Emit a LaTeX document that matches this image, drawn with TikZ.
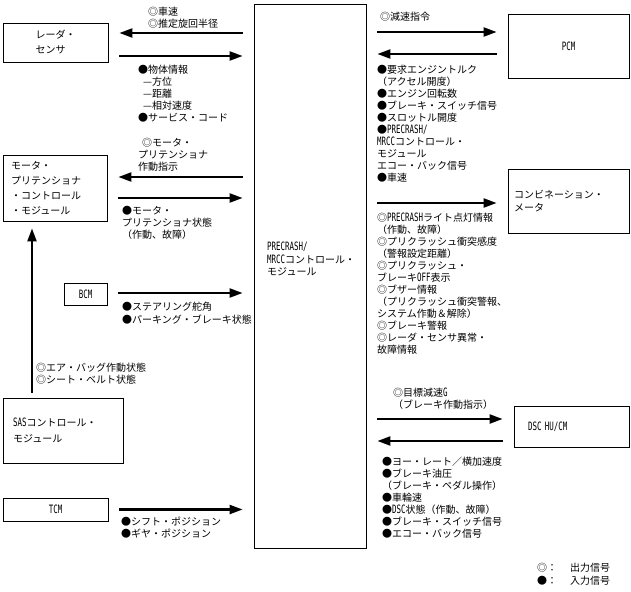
\documentclass[tikz,border=0pt]{standalone}
\usepackage{fontspec}
\setmainfont{Noto Sans CJK JP}
\newfontfamily\hwfont{DejaVu Sans Mono}[Scale=1.15,FakeStretch=0.65]
\newcommand{\hw}[1]{{\hwfont #1}}
\usetikzlibrary{arrows.meta}
\tikzset{
  unit/.style={draw, line width=0.8pt, inner sep=0pt, align=left, font=\fontsize{10}{15}\selectfont},
  sig/.style={line width=2.2pt, -{Triangle[length=13pt,width=9pt]}, shorten <=11pt, shorten >=11pt},
  lbl/.style={anchor=north west, inner sep=0pt, align=left, font=\fontsize{10}{12}\selectfont},
}
\begin{document}
\begin{tikzpicture}[x=1pt,y=-1pt]
  \useasboundingbox (0,0) rectangle (631,591);

  % control units
  \node[unit, minimum width=112pt, minimum height=544pt] (ctrl) at (310,276) {};
  \node[lbl, font=\fontsize{10}{12.5}\selectfont] (ctrltext) at (267,242) {\hw{PRECRASH/}\\\hw{MRCC}コントロール・\\モジュール};

  \node[unit, minimum width=105pt, minimum height=39pt] (radar) at (55.5,42.5) {レーダ・\\センサ};
  \node[unit, minimum width=104pt, minimum height=66pt, text width=88pt] (motor) at (55,188) {モータ・\\プリテンショナ\\・コントロール\\・モジュール};
  \node[unit, minimum width=43pt, minimum height=22pt] (bcm) at (85.5,294) {\hw{BCM}};
  \node[unit, minimum width=120pt, minimum height=65pt, text width=100pt, font=\fontsize{10}{16}\selectfont] (sas) at (63,430.5) {\hw{SAS}コントロール・\\モジュール};
  \node[unit, minimum width=105pt, minimum height=23pt] (tcm) at (55.5,509.5) {\hw{TCM}};
  \node[unit, minimum width=121pt, minimum height=64pt] (pcm) at (568.5,46) {\hw{PCM}};
  \node[unit, minimum width=121pt, minimum height=64pt, text width=109pt, font=\fontsize{10}{13}\selectfont] (comb) at (568.5,201) {コンビネーション・\\メータ};
  \node[unit, minimum width=115pt, minimum height=41pt, text width=87pt] (dsc) at (571.5,426.5) {\hw{DSC HU/CM}};

  % signals, left side
  \draw[sig] (ctrl.west |- 0,33) -- (radar.east |- 0,33);
  \draw[sig] (radar.east |- 0,56) -- (ctrl.west |- 0,56);
  \draw[sig] (ctrl.west |- 0,177) -- (motor.east |- 0,177);
  \draw[sig] (motor.east |- 0,198) -- (ctrl.west |- 0,198);
  \draw[sig] (bcm.east |- 0,293) -- (ctrl.west |- 0,293);
  \draw[sig] (tcm.east) -- (ctrl.west |- tcm.east);
  \draw[sig, shorten <=5pt, shorten >=7pt] (sas.north -| 32,0) -- (motor.south -| 32,0);

  % signals, right side
  \draw[sig] (ctrl.east |- 0,32) -- (pcm.west |- 0,32);
  \draw[sig] (pcm.west |- 0,54) -- (ctrl.east |- 0,54);
  \draw[sig] (ctrl.east |- 0,203) -- (comb.west |- 0,203);
  \draw[sig] (ctrl.east |- 0,419) -- (dsc.west |- 0,419);
  \draw[sig] (dsc.west |- 0,441) -- (ctrl.east |- 0,441);

  % labels
  \node[lbl] (radarout) at (148,7) {◎車速\\◎推定旋回半径};
  \node[lbl] (radarin) at (138,65) {●物体情報\\\hspace{5pt}—方位\\\hspace{5pt}—距離\\\hspace{5pt}—相対速度\\●サービス・コード};
  \node[lbl] (motorout) at (138,138) {\hspace{4pt}◎モータ・\\プリテンショナ\\作動指示};
  \node[lbl] (motorin) at (122,206) {●モータ・\\プリテンショナ状態\\（作動、故障）};
  \node[lbl, font=\fontsize{10}{13}\selectfont] (bcmin) at (122,302) {●ステアリング舵角\\●パーキング・ブレーキ状態};
  \node[lbl] (sasout) at (36,363) {◎エア・バッグ作動状態\\◎シート・ベルト状態};
  \node[lbl] (tcmin) at (121,517) {●シフト・ポジション\\●ギヤ・ポジション};

  \node[lbl] (pcmout) at (380,12) {◎減速指令};
  \node[lbl] (pcmin) at (377,65) {●要求エンジントルク\\（アクセル開度）\\●エンジン回転数\\●ブレーキ・スイッチ信号\\●スロットル開度\\●\hw{PRECRASH/}\\\hw{MRCC}コントロール・\\モジュール\\エコー・バック信号\\●車速};
  \node[lbl] (combout) at (377,213) {◎\hw{PRECRASH}ライト点灯情報\\（作動、故障）\\◎プリクラッシュ衝突感度\\（警報設定距離）\\◎プリクラッシュ・\\ブレーキ\hw{OFF}表示\\◎ブザー情報\\（プリクラッシュ衝突警報、\\システム作動＆解除）\\◎ブレーキ警報\\◎レーダ・センサ異常・\\故障情報};
  \node[lbl] (dscout) at (393,388) {◎目標減速\hw{G}\\（ブレーキ作動指示）};
  \node[lbl] (dscin) at (382,457) {●ヨー・レート／横加速度\\●ブレーキ油圧\\（ブレーキ・ペダル操作）\\●車輪速\\●\hw{DSC}状態（作動、故障）\\●ブレーキ・スイッチ信号\\●エコー・バック信号};

  \node[lbl, font=\fontsize{10}{13}\selectfont] (legend) at (537,563) {◎：\hspace{13pt}出力信号\\●：\hspace{13pt}入力信号};
\end{tikzpicture}
\end{document}
